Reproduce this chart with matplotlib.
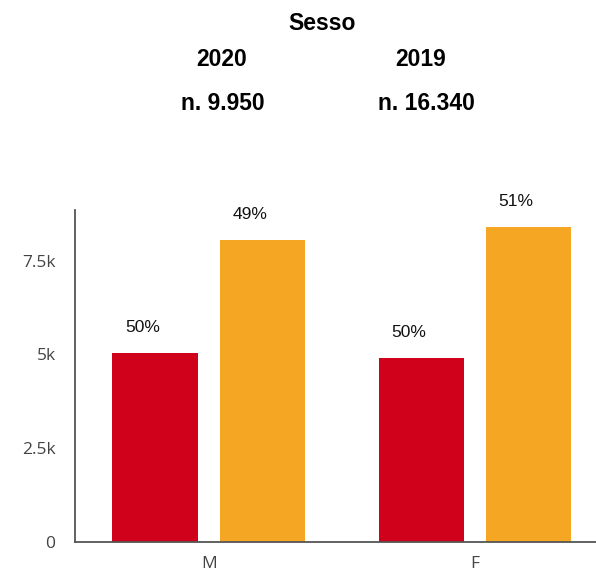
import matplotlib
matplotlib.use("Agg")
import matplotlib.pyplot as plt
import numpy as np

categories = ["M", "F"]
values_2020 = [5040, 4910]
values_2019 = [8060, 8400]
pct_2020 = ["50%", "50%"]
pct_2019 = ["49%", "51%"]
yticks = [0, 2500, 5000, 7500]
ytick_labels = ["0", "2.5k", "5k", "7.5k"]

RED = "#D0021B"
ORANGE = "#F5A623"

fig = plt.figure(figsize=(5.96, 5.72), dpi=100)
ax = fig.add_axes([75/596, 1 - 541.7/572, 1 - 75/596, (541.7 - 210)/572])

x = np.arange(len(categories))
w = 0.321
off = 0.201
b1 = ax.bar(x - off, values_2020, w, color=RED)
b2 = ax.bar(x + off, values_2019, w, color=ORANGE)

for bars, labels in ((b1, pct_2020), (b2, pct_2019)):
    for r, lab in zip(bars, labels):
        ax.annotate(lab, (r.get_x() + r.get_width()/2, r.get_height()),
                    xytext=(-9, 18), textcoords="offset points",
                    ha="center", va="center", fontsize=12.5,
                    family="Liberation Sans", color="#111111")

ax.set_xlim(-0.502, 1.454)
ax.set_ylim(0, 8850)
ax.set_xticks(x)
ax.set_xticklabels(categories)
ax.set_yticks(yticks)
ax.set_yticklabels(ytick_labels)
ax.tick_params(axis="both", length=0, labelsize=12.5, labelcolor="#444444")
ax.tick_params(axis="y", pad=14)
ax.tick_params(axis="x", pad=10)
for lab in ax.get_xticklabels() + ax.get_yticklabels():
    lab.set_family("Open Sans")
for s in ("top", "right"):
    ax.spines[s].set_visible(False)
for s in ("left", "bottom"):
    ax.spines[s].set_color("#555555")
    ax.spines[s].set_linewidth(1.3)

tkw = dict(ha="center", va="center", fontsize=16.5, fontweight="bold",
           family="Liberation Sans", color="black")
fig.text(321.7/596, 1 - 24/572, "Sesso", **tkw)
fig.text(222/596, 1 - 60/572, "2020", **tkw)
fig.text(421/596, 1 - 60/572, "2019", **tkw)
fig.text(223/596, 1 - 103/572, "n. 9.950", **tkw)
fig.text(426/596, 1 - 103/572, "n. 16.340", **tkw)

fig.savefig("out.png", dpi=100)
